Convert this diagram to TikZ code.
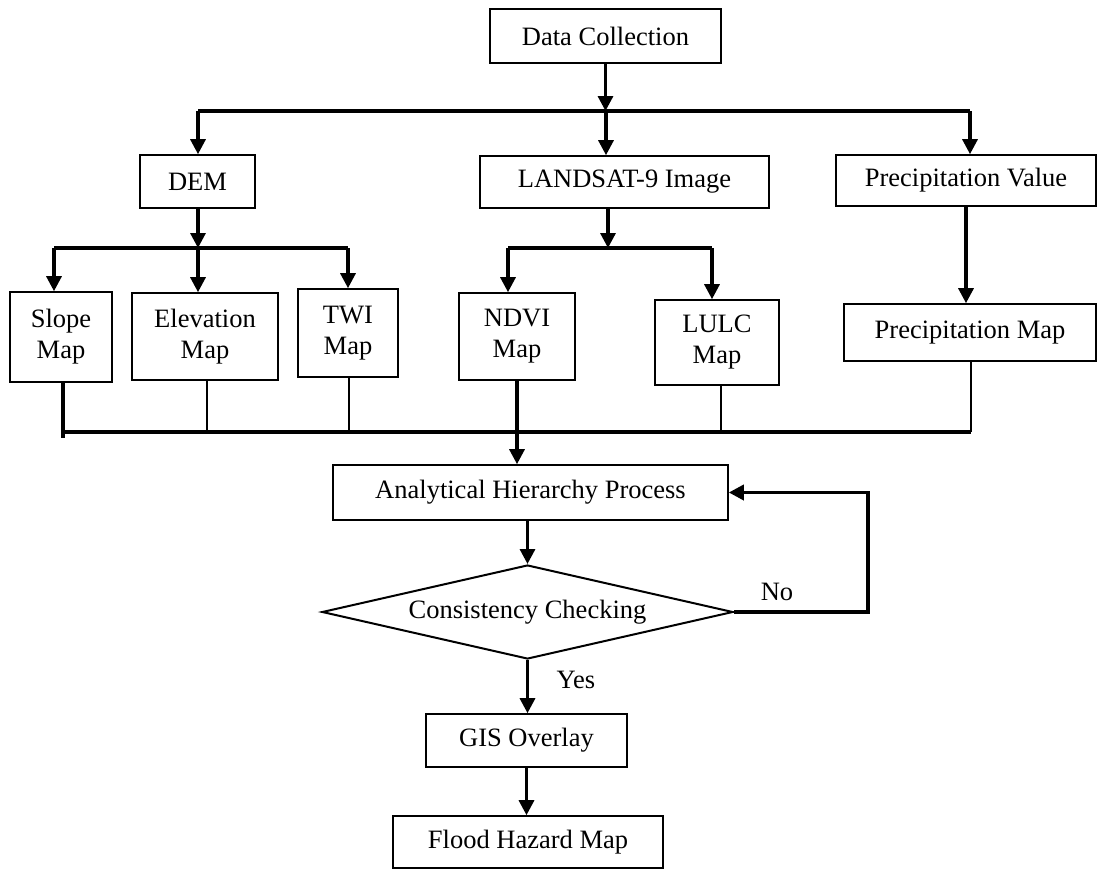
\documentclass[tikz,border=0pt]{standalone}
\usepackage{fontspec}
\setmainfont{Liberation Serif}
\usetikzlibrary{arrows.meta,shapes.geometric}
\newcommand{\figfont}{\fontsize{26.5}{31}\selectfont}
\begin{document}
\begin{tikzpicture}[x=1pt,y=-1pt,
  box/.style={draw, line width=1.6pt, inner sep=0pt, align=center, font=\figfont},
  lbl/.style={inner sep=0pt, font=\figfont},
  arr/.style={line width=3.2pt, -{Triangle[length=15pt,width=15pt]}},
  bar/.style={line width=3.4pt},
  conn/.style={line width=2.4pt},
  heavy/.style={line width=4pt}]
\useasboundingbox (0,0) rectangle (1098,870);

% nodes
\node[box, minimum width=231pt, minimum height=54pt] (dc) at (605.5,36) {Data Collection};
\node[box, minimum width=115pt, minimum height=53pt] (dem) at (197.5,181.5) {DEM};
\node[box, minimum width=289pt, minimum height=52pt] (ls) at (624.5,182) {LANDSAT-9 Image};
\node[box, minimum width=260pt, minimum height=51pt] (pv) at (966,180.5) {Precipitation Value};

\node[box, minimum width=102pt, minimum height=90pt] (slope) at (61,337) {Slope\\Map};
\node[box, minimum width=146pt, minimum height=87pt] (elev) at (205,336.5) {Elevation\\Map};
\node[box, minimum width=100pt, minimum height=88pt] (twi) at (348,333) {TWI\\Map};
\node[box, minimum width=116pt, minimum height=87pt] (ndvi) at (517,336.5) {NDVI\\Map};
\node[box, minimum width=124pt, minimum height=85pt] (lulc) at (717,342.5) {LULC\\Map};
\node[box, minimum width=252pt, minimum height=57pt] (pmap) at (970,332.5) {Precipitation Map};

\node[box, minimum width=395pt, minimum height=55pt] (ahp) at (530.5,492.5) {Analytical Hierarchy Process};
\node[draw, diamond, aspect=4.37, minimum width=411pt, minimum height=94pt, inner sep=0pt,
      line width=2pt, font=\figfont] (dia) at (527.5,612) {Consistency Checking};
\node[box, minimum width=201pt, minimum height=53pt] (gis) at (526.5,740.5) {GIS Overlay};
\node[box, minimum width=270pt, minimum height=52pt] (flood) at (528,842) {Flood Hazard Map};

\node[lbl] (no) at (777,592) {No};
\node[lbl] (yes) at (576,680) {Yes};

% bar coordinates
\coordinate (b1l) at (198,111);
\coordinate (b1m) at (606,111);
\coordinate (b1r) at (970,111);
\coordinate (b2l) at (54,248);
\coordinate (b2m) at (198,248);
\coordinate (b2r) at (348,248);
\coordinate (b3l) at (508,248);
\coordinate (b3m) at (608,248);
\coordinate (b3r) at (712,248);
\coordinate (b4l) at (63,432);
\coordinate (b4e) at (207,432);
\coordinate (b4t) at (349,432);
\coordinate (b4u) at (721,432);
\coordinate (b4r) at (971,432);
\coordinate (slend) at (63,438);
\coordinate (fb) at (868,612);

% level 1
\draw[arr] (dc.south) -- (dc.south |- b1m);
\draw[bar] (b1l) -- (b1r);
\draw[arr] (b1l) -- (b1l |- dem.north);
\draw[arr] (b1m) -- (b1m |- ls.north);
\draw[arr] (b1r) -- (b1r |- pv.north);

% DEM branch
\draw[arr] (b2m |- dem.south) -- (b2m);
\draw[bar] (b2l) -- (b2r);
\draw[arr] (b2l) -- (b2l |- slope.north);
\draw[arr] (b2m) -- (b2m |- elev.north);
\draw[arr] (b2r) -- (b2r |- twi.north);

% Landsat branch
\draw[arr] (b3m |- ls.south) -- (b3m);
\draw[bar] (b3l) -- (b3r);
\draw[arr] (b3l) -- (b3l |- ndvi.north);
\draw[arr] (b3r) -- (b3r |- lulc.north);

% Precipitation
\draw[arr] (pv.south) -- (pv.south |- pmap.north);

% collectors
\draw[heavy] (b4l |- slope.south) -- (slend);
\draw[conn] (b4e |- elev.south) -- (b4e);
\draw[conn] (b4t |- twi.south) -- (b4t);
\draw[conn] (b4u |- lulc.south) -- (b4u);
\draw[conn] (b4r |- pmap.south) -- (b4r);
\draw[bar] (b4l) -- (b4r);
\draw[arr] (ndvi.south) -- (ndvi.south |- ahp.north);

% lower flow
\draw[arr] (dia.north |- ahp.south) -- (dia.north);
\draw[arr, line width=3.6pt] (dia.east) -- (fb) -- (fb |- ahp.east) -- (ahp.east);
\draw[arr] (dia.south) -- (dia.south |- gis.north);
\draw[arr] (gis.south) -- (gis.south |- flood.north);
\end{tikzpicture}
\end{document}
